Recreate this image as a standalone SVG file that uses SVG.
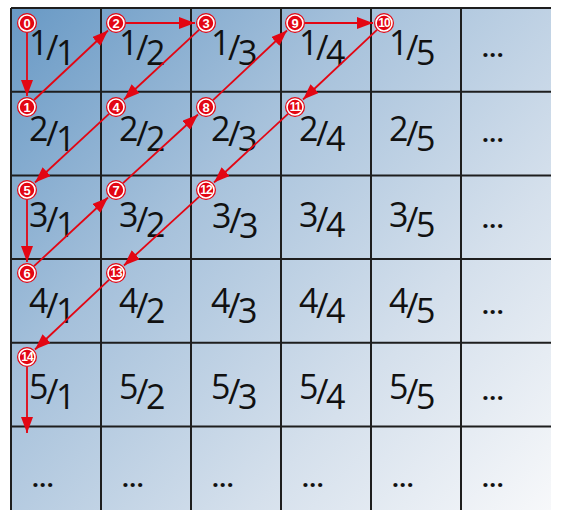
<svg xmlns="http://www.w3.org/2000/svg" width="561" height="519" viewBox="0 0 561 519">
<defs>
<linearGradient id="bg" gradientUnits="userSpaceOnUse" x1="11" y1="8" x2="551" y2="510">
<stop offset="0" stop-color="#6899c5"/>
<stop offset="0.35" stop-color="#a6c1db"/>
<stop offset="0.7" stop-color="#d5e0ec"/>
<stop offset="1" stop-color="#f7f8fa"/>
</linearGradient>
<marker id="ah" markerUnits="userSpaceOnUse" markerWidth="17" markerHeight="12" refX="16" refY="6" orient="auto">
<path d="M0,0 L16,6 L0,12 z" fill="#e30613"/>
</marker>
<g id="dot">
<circle r="10" fill="#e30613"/>
<circle r="8" fill="#e30613" stroke="#ffffff" stroke-width="1.6"/>
</g>
</defs>
<style>
.grid{stroke:#1e1e1e;stroke-width:2;fill:none}
.fr{font-family:"Open Sans","DejaVu Sans",sans-serif;font-size:34px;fill:#111;text-anchor:middle;letter-spacing:-2.5px}
.el{font-family:"Open Sans","DejaVu Sans",sans-serif;font-size:24px;font-weight:bold;fill:#111;letter-spacing:0.5px}
.num{font-family:"Liberation Sans","Arial",sans-serif;font-size:13px;font-weight:bold;fill:#ffffff;text-anchor:middle}
.num2{letter-spacing:-1px;font-size:12px}
.arr{stroke:#e30613;stroke-width:1.8;fill:none;marker-end:url(#ah)}
</style>
<rect x="11" y="8" width="540" height="502" fill="url(#bg)"/>
<g id="grid" class="grid">
<path d="M11,8 H551 M11,91.7 H551 M11,175.4 H551 M11,259.1 H551 M11,342.8 H551 M11,426.5 H551"/>
<path d="M11,8 V510 M101,8 V510 M191,8 V510 M281,8 V510 M371,8 V510 M461,8 V510"/>
</g>
<g id="cells">
<g id="c11"><text class="fr" x="51" y="55">1<tspan dy="5">/</tspan><tspan dy="5">1</tspan></text></g>
<g id="c12"><text class="fr" x="141" y="55">1<tspan dy="5">/</tspan><tspan dy="5">2</tspan></text></g>
<g id="c13"><text class="fr" x="233" y="55">1<tspan dy="5">/</tspan><tspan dy="5">3</tspan></text></g>
<g id="c14"><text class="fr" x="321" y="55">1<tspan dy="5">/</tspan><tspan dy="5">4</tspan></text></g>
<g id="c15"><text class="fr" x="411" y="55">1<tspan dy="5">/</tspan><tspan dy="5">5</tspan></text></g>
<g id="c16"><text class="el" x="482" y="57">...</text></g>
<g id="c21"><text class="fr" x="51" y="141">2<tspan dy="5">/</tspan><tspan dy="5">1</tspan></text></g>
<g id="c22"><text class="fr" x="141" y="141">2<tspan dy="5">/</tspan><tspan dy="5">2</tspan></text></g>
<g id="c23"><text class="fr" x="233" y="141">2<tspan dy="5">/</tspan><tspan dy="5">3</tspan></text></g>
<g id="c24"><text class="fr" x="321" y="141">2<tspan dy="5">/</tspan><tspan dy="5">4</tspan></text></g>
<g id="c25"><text class="fr" x="411" y="141">2<tspan dy="5">/</tspan><tspan dy="5">5</tspan></text></g>
<g id="c26"><text class="el" x="482" y="142">...</text></g>
<g id="c31"><text class="fr" x="51" y="227">3<tspan dy="5">/</tspan><tspan dy="5">1</tspan></text></g>
<g id="c32"><text class="fr" x="141" y="227">3<tspan dy="5">/</tspan><tspan dy="5">2</tspan></text></g>
<g id="c33"><text class="fr" x="234" y="228">3<tspan dy="5">/</tspan><tspan dy="5">3</tspan></text></g>
<g id="c34"><text class="fr" x="321" y="227">3<tspan dy="5">/</tspan><tspan dy="5">4</tspan></text></g>
<g id="c35"><text class="fr" x="411" y="227">3<tspan dy="5">/</tspan><tspan dy="5">5</tspan></text></g>
<g id="c36"><text class="el" x="482" y="228">...</text></g>
<g id="c41"><text class="fr" x="51" y="313">4<tspan dy="5">/</tspan><tspan dy="5">1</tspan></text></g>
<g id="c42"><text class="fr" x="141" y="313">4<tspan dy="5">/</tspan><tspan dy="5">2</tspan></text></g>
<g id="c43"><text class="fr" x="233" y="313">4<tspan dy="5">/</tspan><tspan dy="5">3</tspan></text></g>
<g id="c44"><text class="fr" x="321" y="313">4<tspan dy="5">/</tspan><tspan dy="5">4</tspan></text></g>
<g id="c45"><text class="fr" x="411" y="313">4<tspan dy="5">/</tspan><tspan dy="5">5</tspan></text></g>
<g id="c46"><text class="el" x="482" y="314">...</text></g>
<g id="c51"><text class="fr" x="51" y="399">5<tspan dy="5">/</tspan><tspan dy="5">1</tspan></text></g>
<g id="c52"><text class="fr" x="141" y="399">5<tspan dy="5">/</tspan><tspan dy="5">2</tspan></text></g>
<g id="c53"><text class="fr" x="233" y="399">5<tspan dy="5">/</tspan><tspan dy="5">3</tspan></text></g>
<g id="c54"><text class="fr" x="321" y="399">5<tspan dy="5">/</tspan><tspan dy="5">4</tspan></text></g>
<g id="c55"><text class="fr" x="411" y="399">5<tspan dy="5">/</tspan><tspan dy="5">5</tspan></text></g>
<g id="c56"><text class="el" x="482" y="400">...</text></g>
<g id="c61"><text class="el" x="32" y="487">...</text></g>
<g id="c62"><text class="el" x="122" y="487">...</text></g>
<g id="c63"><text class="el" x="212" y="487">...</text></g>
<g id="c64"><text class="el" x="302" y="487">...</text></g>
<g id="c65"><text class="el" x="392" y="487">...</text></g>
<g id="c66"><text class="el" x="482" y="487">...</text></g>
</g>
<g id="connectors" class="arr">
<line x1="27" y1="33" x2="27" y2="96"/>
<line x1="34" y1="100" x2="108" y2="30.5"/>
<line x1="126" y1="23" x2="195" y2="23"/>
<line x1="199" y1="29.8" x2="124" y2="99.5"/>
<line x1="109" y1="113.8" x2="35" y2="182.5"/>
<line x1="27" y1="200" x2="27" y2="262"/>
<line x1="34" y1="266.2" x2="108" y2="197.5"/>
<line x1="123" y1="183.2" x2="198" y2="114.5"/>
<line x1="213" y1="100.2" x2="287" y2="30.5"/>
<line x1="305" y1="23" x2="373" y2="23"/>
<line x1="377" y1="29.8" x2="303" y2="99.5"/>
<line x1="288" y1="113.8" x2="214" y2="182.5"/>
<line x1="199" y1="196.8" x2="124" y2="265.5"/>
<line x1="109" y1="279.8" x2="35" y2="349.5"/>
<line x1="27" y1="367" x2="27" y2="433"/>
</g>
<g id="n0"><use href="#dot" x="27" y="23"/><text class="num" x="27" y="27.5">0</text></g>
<g id="n1"><use href="#dot" x="27" y="107"/><text class="num" x="27" y="111.5">1</text></g>
<g id="n2"><use href="#dot" x="116" y="23"/><text class="num" x="116" y="27.5">2</text></g>
<g id="n3"><use href="#dot" x="206" y="23"/><text class="num" x="206" y="27.5">3</text></g>
<g id="n4"><use href="#dot" x="116" y="107"/><text class="num" x="116" y="111.5">4</text></g>
<g id="n5"><use href="#dot" x="27" y="190"/><text class="num" x="27" y="194.5">5</text></g>
<g id="n6"><use href="#dot" x="27" y="273"/><text class="num" x="27" y="277.5">6</text></g>
<g id="n7"><use href="#dot" x="116" y="190"/><text class="num" x="116" y="194.5">7</text></g>
<g id="n8"><use href="#dot" x="206" y="107"/><text class="num" x="206" y="111.5">8</text></g>
<g id="n9"><use href="#dot" x="295" y="23"/><text class="num" x="295" y="27.5">9</text></g>
<g id="n10"><use href="#dot" x="384" y="23"/><text class="num num2" x="384" y="27.3">10</text></g>
<g id="n11"><use href="#dot" x="295" y="107"/><text class="num num2" x="295" y="111.3">11</text></g>
<g id="n12"><use href="#dot" x="206" y="190"/><text class="num num2" x="206" y="194.3">12</text></g>
<g id="n13"><use href="#dot" x="116" y="273"/><text class="num num2" x="116" y="277.3">13</text></g>
<g id="n14"><use href="#dot" x="27" y="357"/><text class="num num2" x="27" y="361.3">14</text></g>
</svg>
